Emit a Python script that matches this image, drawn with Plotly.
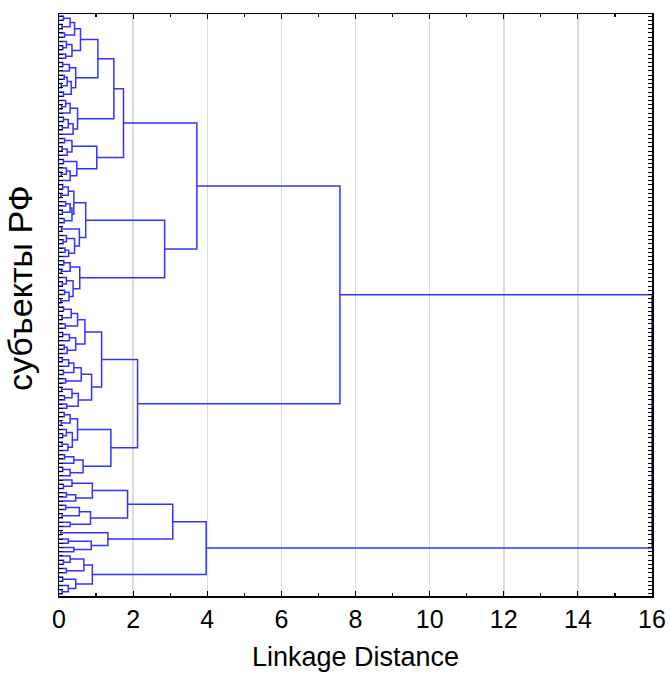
import plotly.graph_objects as go

# ---- data -------------------------------------------------------------
n_leaves = 138
# linkage distance at which each pair of neighbouring leaves (in display order) is joined
neighbour_heights = [
    0.12, 0.30, 0.08, 0.42, 0.15, 0.58, 0.20, 0.10, 0.35, 0.18,
    1.05,
    0.10, 0.28, 0.45, 0.14, 0.22, 0.06, 0.33, 0.12,
    1.48,
    0.18, 0.07, 0.30, 0.50, 0.12, 0.25, 0.09, 0.38,
    1.74,
    0.15, 0.35, 0.08, 0.22, 1.02, 0.12, 0.48, 0.20, 0.06, 0.30,
    3.72,
    0.10, 0.25, 0.05, 0.40, 0.18, 0.30, 0.09, 0.35, 0.14, 0.72,
    0.07, 0.55, 0.20, 0.11, 0.42, 0.16, 0.26,
    2.85,
    0.13, 0.30, 0.06, 0.56, 0.20, 0.09, 0.38, 0.15, 0.27, 0.05,
    7.58,
    0.12, 0.33, 0.08, 0.50, 0.17, 0.70, 0.10, 0.28, 0.45, 0.14, 0.22,
    1.15,
    0.09, 0.26, 0.40, 0.12, 0.60, 0.18, 0.88, 0.07, 0.35, 0.15, 0.52, 0.21,
    2.12,
    0.14, 0.30, 0.06, 0.50, 0.20, 0.10, 0.36, 0.08, 0.24,
    1.40,
    0.15, 0.40, 0.65, 0.10, 0.30,
    16.0,
    0.35, 0.12, 0.90, 0.20, 0.45,
    1.85,
    0.18, 0.55, 0.08, 0.85, 0.30,
    3.07,
    0.05, 1.32, 0.25, 0.87, 0.40,
    3.97,
    0.30, 0.12, 0.67, 0.20, 0.90, 0.10, 0.45, 0.25, 0.08,
]
x_tick_values = [0, 2, 4, 6, 8, 10, 12, 14, 16]
x_title = "Linkage Distance"
y_title = "субъекты РФ"

# ---- build dendrogram segments from the neighbour heights ---------------
xs, ys = [], []


def build(lo, hi):
    if lo == hi:
        return float(lo), 0.0
    k = max(range(lo, hi), key=lambda j: neighbour_heights[j])
    yl, hl = build(lo, k)
    yr, hr = build(k + 1, hi)
    h = neighbour_heights[k]
    xs.extend([hl, h, h, hr, None])
    ys.extend([yl, yl, yr, yr, None])
    return (yl + yr) / 2.0, h


build(0, n_leaves - 1)

fig = go.Figure()
fig.add_trace(go.Scatter(
    x=xs, y=ys, mode="lines",
    line=dict(color="#3333ff", width=1.5),
    hoverinfo="skip", showlegend=False,
))

font_family = "Liberation Sans, Arial, sans-serif"
fig.update_layout(
    width=670, height=673,
    margin=dict(l=59, r=18, t=14, b=77, autoexpand=False),
    paper_bgcolor="white", plot_bgcolor="white",
    font=dict(family=font_family, color="black"),
    xaxis=dict(
        range=[0, 16], tickvals=x_tick_values,
        ticks="inside", ticklen=5, tickwidth=1.2, tickcolor="black",
        minor=dict(dtick=1, tick0=0, ticks="inside", ticklen=3, tickcolor="black", showgrid=False),
        showline=True, linecolor="black", linewidth=1.5, mirror="allticks",
        showgrid=True, gridcolor="#dcdcdc", gridwidth=1.5,
        zeroline=False, automargin=False,
        tickfont=dict(size=25, family=font_family),
        layer="above traces",
    ),
    yaxis=dict(
        range=[n_leaves - 0.5, -0.5],
        tickvals=list(range(n_leaves)), showticklabels=False,
        ticks="inside", ticklen=4, tickwidth=1, tickcolor="black",
        showline=True, linecolor="black", linewidth=1.5, mirror="allticks",
        showgrid=False, zeroline=False, automargin=False,
        layer="above traces",
    ),
    annotations=[
        dict(text=x_title, xref="paper", yref="paper", x=0.5, y=-0.1048,
             xanchor="center", yanchor="middle", showarrow=False,
             font=dict(size=27, family=font_family, color="black")),
        dict(text=y_title, xref="paper", yref="paper", x=-0.0658, y=0.529,
             xanchor="center", yanchor="middle", showarrow=False, textangle=-90,
             font=dict(size=34, family=font_family, color="black")),
    ],
)

# remove the browser's default 8px page margin so the figure fills the window exactly
fig.write_html(
    "out.html",
    config={"displayModeBar": False, "staticPlot": True},
    post_script="document.body.style.margin='0px';",
)
